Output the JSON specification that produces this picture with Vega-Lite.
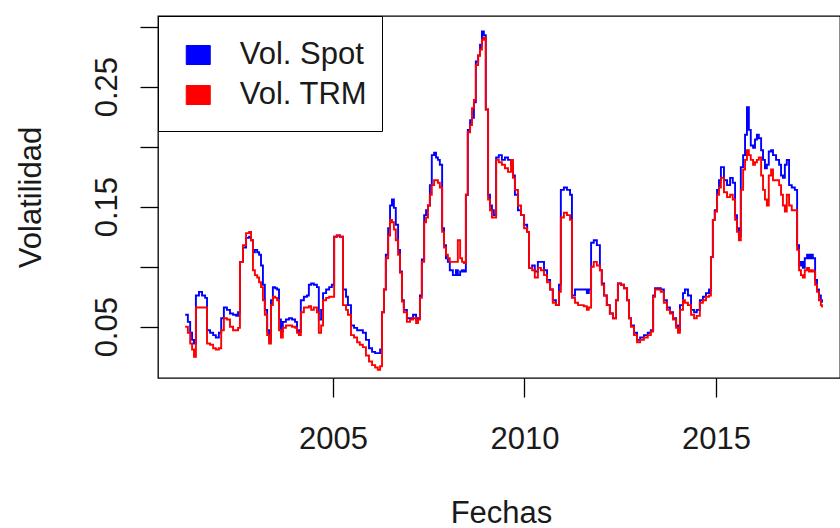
{
"$schema": "https://vega.github.io/schema/vega-lite/v6.json",
"width": 682, "height": 362,
"autosize": {"type": "none"},
"padding": {"left": 158, "top": 16, "right": 0, "bottom": 150},
"background": "white",
"config": {"view": {"stroke": "#000", "strokeWidth": 1.3}, "font": "Liberation Sans"},
"data": {"values": [
{"t":2001.14,"spot":0.060,"trm":0.050},{"t":2001.21,"spot":0.054,"trm":0.045},{"t":2001.27,"spot":0.045,"trm":0.036},{"t":2001.32,"spot":0.039,"trm":0.031},{"t":2001.37,"spot":0.036,"trm":0.025},{"t":2001.42,"spot":0.076,"trm":0.066},{"t":2001.50,"spot":0.079,"trm":0.066},{"t":2001.58,"spot":0.076,"trm":0.066},{"t":2001.66,"spot":0.074,"trm":0.066},{"t":2001.71,"spot":0.047,"trm":0.036},{"t":2001.79,"spot":0.045,"trm":0.035},{"t":2001.87,"spot":0.043,"trm":0.032},{"t":2001.94,"spot":0.041,"trm":0.031},{"t":2002.02,"spot":0.045,"trm":0.032},{"t":2002.08,"spot":0.057,"trm":0.047},{"t":2002.15,"spot":0.066,"trm":0.057},{"t":2002.23,"spot":0.064,"trm":0.056},{"t":2002.31,"spot":0.061,"trm":0.050},{"t":2002.39,"spot":0.060,"trm":0.047},{"t":2002.47,"spot":0.059,"trm":0.047},{"t":2002.52,"spot":0.062,"trm":0.049},{"t":2002.57,"spot":0.104,"trm":0.104},{"t":2002.65,"spot":0.116,"trm":0.118},{"t":2002.73,"spot":0.124,"trm":0.128},{"t":2002.81,"spot":0.125,"trm":0.129},{"t":2002.86,"spot":0.122,"trm":0.122},{"t":2002.91,"spot":0.112,"trm":0.097},{"t":2002.96,"spot":0.114,"trm":0.093},{"t":2003.02,"spot":0.112,"trm":0.091},{"t":2003.07,"spot":0.110,"trm":0.087},{"t":2003.12,"spot":0.101,"trm":0.083},{"t":2003.17,"spot":0.085,"trm":0.072},{"t":2003.22,"spot":0.064,"trm":0.060},{"t":2003.28,"spot":0.047,"trm":0.043},{"t":2003.33,"spot":0.039,"trm":0.036},{"t":2003.38,"spot":0.072,"trm":0.068},{"t":2003.43,"spot":0.083,"trm":0.075},{"t":2003.49,"spot":0.082,"trm":0.074},{"t":2003.54,"spot":0.081,"trm":0.072},{"t":2003.59,"spot":0.056,"trm":0.047},{"t":2003.64,"spot":0.046,"trm":0.041},{"t":2003.69,"spot":0.054,"trm":0.049},{"t":2003.77,"spot":0.056,"trm":0.051},{"t":2003.85,"spot":0.057,"trm":0.051},{"t":2003.93,"spot":0.056,"trm":0.050},{"t":2004.01,"spot":0.054,"trm":0.049},{"t":2004.06,"spot":0.047,"trm":0.045},{"t":2004.11,"spot":0.046,"trm":0.043},{"t":2004.16,"spot":0.072,"trm":0.062},{"t":2004.24,"spot":0.075,"trm":0.066},{"t":2004.32,"spot":0.076,"trm":0.066},{"t":2004.37,"spot":0.085,"trm":0.067},{"t":2004.43,"spot":0.086,"trm":0.064},{"t":2004.50,"spot":0.085,"trm":0.066},{"t":2004.58,"spot":0.083,"trm":0.062},{"t":2004.63,"spot":0.056,"trm":0.045},{"t":2004.69,"spot":0.064,"trm":0.051},{"t":2004.74,"spot":0.078,"trm":0.072},{"t":2004.82,"spot":0.081,"trm":0.074},{"t":2004.90,"spot":0.083,"trm":0.075},{"t":2004.97,"spot":0.085,"trm":0.075},{"t":2005.03,"spot":0.125,"trm":0.125},{"t":2005.10,"spot":0.126,"trm":0.126},{"t":2005.18,"spot":0.125,"trm":0.125},{"t":2005.26,"spot":0.081,"trm":0.068},{"t":2005.34,"spot":0.075,"trm":0.064},{"t":2005.39,"spot":0.068,"trm":0.060},{"t":2005.47,"spot":0.051,"trm":0.043},{"t":2005.55,"spot":0.049,"trm":0.041},{"t":2005.63,"spot":0.047,"trm":0.037},{"t":2005.70,"spot":0.047,"trm":0.035},{"t":2005.78,"spot":0.045,"trm":0.033},{"t":2005.86,"spot":0.039,"trm":0.026},{"t":2005.94,"spot":0.032,"trm":0.021},{"t":2006.02,"spot":0.029,"trm":0.018},{"t":2006.10,"spot":0.028,"trm":0.016},{"t":2006.17,"spot":0.028,"trm":0.014},{"t":2006.23,"spot":0.031,"trm":0.017},{"t":2006.28,"spot":0.062,"trm":0.062},{"t":2006.33,"spot":0.081,"trm":0.081},{"t":2006.38,"spot":0.110,"trm":0.107},{"t":2006.44,"spot":0.132,"trm":0.126},{"t":2006.49,"spot":0.151,"trm":0.139},{"t":2006.54,"spot":0.156,"trm":0.137},{"t":2006.59,"spot":0.149,"trm":0.131},{"t":2006.64,"spot":0.135,"trm":0.122},{"t":2006.70,"spot":0.114,"trm":0.110},{"t":2006.75,"spot":0.096,"trm":0.095},{"t":2006.80,"spot":0.072,"trm":0.071},{"t":2006.85,"spot":0.064,"trm":0.062},{"t":2006.93,"spot":0.057,"trm":0.054},{"t":2007.01,"spot":0.057,"trm":0.056},{"t":2007.09,"spot":0.060,"trm":0.057},{"t":2007.17,"spot":0.056,"trm":0.053},{"t":2007.22,"spot":0.057,"trm":0.056},{"t":2007.27,"spot":0.076,"trm":0.074},{"t":2007.32,"spot":0.106,"trm":0.104},{"t":2007.38,"spot":0.143,"trm":0.137},{"t":2007.43,"spot":0.147,"trm":0.141},{"t":2007.48,"spot":0.151,"trm":0.151},{"t":2007.53,"spot":0.168,"trm":0.160},{"t":2007.58,"spot":0.193,"trm":0.168},{"t":2007.64,"spot":0.195,"trm":0.172},{"t":2007.69,"spot":0.191,"trm":0.172},{"t":2007.74,"spot":0.189,"trm":0.170},{"t":2007.79,"spot":0.185,"trm":0.166},{"t":2007.85,"spot":0.132,"trm":0.129},{"t":2007.90,"spot":0.118,"trm":0.116},{"t":2007.95,"spot":0.107,"trm":0.110},{"t":2008.00,"spot":0.104,"trm":0.107},{"t":2008.05,"spot":0.097,"trm":0.104},{"t":2008.13,"spot":0.093,"trm":0.104},{"t":2008.21,"spot":0.097,"trm":0.104},{"t":2008.26,"spot":0.093,"trm":0.122},{"t":2008.32,"spot":0.096,"trm":0.107},{"t":2008.37,"spot":0.097,"trm":0.104},{"t":2008.42,"spot":0.096,"trm":0.103},{"t":2008.47,"spot":0.160,"trm":0.160},{"t":2008.52,"spot":0.214,"trm":0.212},{"t":2008.58,"spot":0.222,"trm":0.218},{"t":2008.63,"spot":0.224,"trm":0.232},{"t":2008.68,"spot":0.237,"trm":0.239},{"t":2008.73,"spot":0.271,"trm":0.268},{"t":2008.79,"spot":0.276,"trm":0.276},{"t":2008.84,"spot":0.285,"trm":0.281},{"t":2008.89,"spot":0.296,"trm":0.289},{"t":2008.94,"spot":0.293,"trm":0.291},{"t":2008.99,"spot":0.231,"trm":0.231},{"t":2009.05,"spot":0.160,"trm":0.156},{"t":2009.10,"spot":0.151,"trm":0.147},{"t":2009.15,"spot":0.147,"trm":0.141},{"t":2009.20,"spot":0.143,"trm":0.141},{"t":2009.26,"spot":0.191,"trm":0.189},{"t":2009.33,"spot":0.193,"trm":0.187},{"t":2009.41,"spot":0.189,"trm":0.185},{"t":2009.49,"spot":0.191,"trm":0.182},{"t":2009.57,"spot":0.189,"trm":0.179},{"t":2009.65,"spot":0.185,"trm":0.189},{"t":2009.70,"spot":0.176,"trm":0.174},{"t":2009.75,"spot":0.160,"trm":0.164},{"t":2009.83,"spot":0.147,"trm":0.151},{"t":2009.91,"spot":0.143,"trm":0.143},{"t":2009.99,"spot":0.135,"trm":0.132},{"t":2010.07,"spot":0.129,"trm":0.129},{"t":2010.12,"spot":0.099,"trm":0.099},{"t":2010.20,"spot":0.101,"trm":0.097},{"t":2010.27,"spot":0.096,"trm":0.091},{"t":2010.35,"spot":0.104,"trm":0.099},{"t":2010.43,"spot":0.104,"trm":0.097},{"t":2010.51,"spot":0.097,"trm":0.093},{"t":2010.59,"spot":0.089,"trm":0.087},{"t":2010.67,"spot":0.081,"trm":0.081},{"t":2010.74,"spot":0.072,"trm":0.070},{"t":2010.82,"spot":0.068,"trm":0.068},{"t":2010.90,"spot":0.085,"trm":0.079},{"t":2010.95,"spot":0.164,"trm":0.141},{"t":2011.03,"spot":0.166,"trm":0.145},{"t":2011.11,"spot":0.164,"trm":0.143},{"t":2011.19,"spot":0.160,"trm":0.139},{"t":2011.24,"spot":0.076,"trm":0.074},{"t":2011.32,"spot":0.081,"trm":0.070},{"t":2011.40,"spot":0.081,"trm":0.068},{"t":2011.48,"spot":0.081,"trm":0.068},{"t":2011.55,"spot":0.081,"trm":0.067},{"t":2011.63,"spot":0.078,"trm":0.064},{"t":2011.68,"spot":0.081,"trm":0.066},{"t":2011.74,"spot":0.120,"trm":0.100},{"t":2011.81,"spot":0.122,"trm":0.104},{"t":2011.89,"spot":0.118,"trm":0.101},{"t":2011.97,"spot":0.097,"trm":0.097},{"t":2012.02,"spot":0.086,"trm":0.085},{"t":2012.08,"spot":0.076,"trm":0.076},{"t":2012.15,"spot":0.068,"trm":0.068},{"t":2012.23,"spot":0.061,"trm":0.061},{"t":2012.31,"spot":0.057,"trm":0.057},{"t":2012.39,"spot":0.072,"trm":0.072},{"t":2012.44,"spot":0.086,"trm":0.086},{"t":2012.52,"spot":0.085,"trm":0.085},{"t":2012.60,"spot":0.082,"trm":0.082},{"t":2012.68,"spot":0.072,"trm":0.072},{"t":2012.73,"spot":0.057,"trm":0.057},{"t":2012.78,"spot":0.051,"trm":0.050},{"t":2012.86,"spot":0.045,"trm":0.043},{"t":2012.94,"spot":0.039,"trm":0.037},{"t":2013.02,"spot":0.041,"trm":0.039},{"t":2013.12,"spot":0.043,"trm":0.041},{"t":2013.22,"spot":0.045,"trm":0.043},{"t":2013.30,"spot":0.047,"trm":0.046},{"t":2013.36,"spot":0.076,"trm":0.075},{"t":2013.41,"spot":0.082,"trm":0.081},{"t":2013.49,"spot":0.082,"trm":0.081},{"t":2013.56,"spot":0.081,"trm":0.079},{"t":2013.64,"spot":0.072,"trm":0.070},{"t":2013.72,"spot":0.066,"trm":0.064},{"t":2013.80,"spot":0.062,"trm":0.061},{"t":2013.88,"spot":0.057,"trm":0.056},{"t":2013.96,"spot":0.051,"trm":0.049},{"t":2014.01,"spot":0.047,"trm":0.045},{"t":2014.06,"spot":0.068,"trm":0.064},{"t":2014.14,"spot":0.078,"trm":0.072},{"t":2014.19,"spot":0.081,"trm":0.070},{"t":2014.27,"spot":0.076,"trm":0.068},{"t":2014.35,"spot":0.064,"trm":0.060},{"t":2014.43,"spot":0.062,"trm":0.057},{"t":2014.50,"spot":0.064,"trm":0.059},{"t":2014.58,"spot":0.072,"trm":0.070},{"t":2014.66,"spot":0.075,"trm":0.072},{"t":2014.74,"spot":0.078,"trm":0.075},{"t":2014.82,"spot":0.081,"trm":0.076},{"t":2014.87,"spot":0.108,"trm":0.108},{"t":2014.92,"spot":0.139,"trm":0.139},{"t":2014.97,"spot":0.147,"trm":0.146},{"t":2015.03,"spot":0.164,"trm":0.160},{"t":2015.08,"spot":0.172,"trm":0.166},{"t":2015.13,"spot":0.183,"trm":0.174},{"t":2015.21,"spot":0.172,"trm":0.162},{"t":2015.29,"spot":0.168,"trm":0.158},{"t":2015.37,"spot":0.174,"trm":0.160},{"t":2015.44,"spot":0.170,"trm":0.156},{"t":2015.50,"spot":0.143,"trm":0.139},{"t":2015.55,"spot":0.132,"trm":0.129},{"t":2015.60,"spot":0.126,"trm":0.122},{"t":2015.65,"spot":0.183,"trm":0.164},{"t":2015.71,"spot":0.193,"trm":0.181},{"t":2015.76,"spot":0.210,"trm":0.189},{"t":2015.81,"spot":0.233,"trm":0.197},{"t":2015.86,"spot":0.214,"trm":0.193},{"t":2015.91,"spot":0.201,"trm":0.189},{"t":2015.97,"spot":0.199,"trm":0.185},{"t":2016.02,"spot":0.206,"trm":0.187},{"t":2016.07,"spot":0.210,"trm":0.189},{"t":2016.12,"spot":0.207,"trm":0.191},{"t":2016.18,"spot":0.197,"trm":0.176},{"t":2016.23,"spot":0.189,"trm":0.164},{"t":2016.28,"spot":0.182,"trm":0.156},{"t":2016.33,"spot":0.185,"trm":0.151},{"t":2016.38,"spot":0.196,"trm":0.176},{"t":2016.44,"spot":0.197,"trm":0.181},{"t":2016.49,"spot":0.193,"trm":0.172},{"t":2016.57,"spot":0.189,"trm":0.172},{"t":2016.65,"spot":0.185,"trm":0.168},{"t":2016.70,"spot":0.176,"trm":0.160},{"t":2016.75,"spot":0.174,"trm":0.151},{"t":2016.80,"spot":0.185,"trm":0.146},{"t":2016.85,"spot":0.189,"trm":0.160},{"t":2016.91,"spot":0.168,"trm":0.151},{"t":2016.98,"spot":0.166,"trm":0.147},{"t":2017.06,"spot":0.164,"trm":0.147},{"t":2017.12,"spot":0.118,"trm":0.114},{"t":2017.17,"spot":0.101,"trm":0.097},{"t":2017.22,"spot":0.104,"trm":0.093},{"t":2017.27,"spot":0.099,"trm":0.091},{"t":2017.32,"spot":0.107,"trm":0.097},{"t":2017.38,"spot":0.110,"trm":0.099},{"t":2017.43,"spot":0.107,"trm":0.096},{"t":2017.48,"spot":0.110,"trm":0.097},{"t":2017.53,"spot":0.107,"trm":0.096},{"t":2017.59,"spot":0.089,"trm":0.085},{"t":2017.64,"spot":0.081,"trm":0.079},{"t":2017.69,"spot":0.076,"trm":0.072},{"t":2017.74,"spot":0.072,"trm":0.068},{"t":2017.77,"spot":0.070,"trm":0.066}
]},
"transform": [{"fold": ["spot", "trm"], "as": ["s", "v"]}],
"mark": {"type": "line", "interpolate": "step-after", "strokeWidth": 1.9},
"encoding": {
  "x": {"field": "t", "type": "quantitative",
    "scale": {"domain": [2000.43, 2018.24], "nice": false, "zero": false},
    "axis": {"title": "Fechas", "values": [2005, 2010, 2015], "format": "d", "domain": false, "grid": false,
      "tickSize": 19, "tickColor": "#000", "tickWidth": 1.3,
      "labelFont": "Liberation Sans", "labelFontSize": 31, "labelColor": "#1a1a1a", "labelBaseline": "alphabetic", "labelPadding": 51,
      "labelFlush": false, "labelOverlap": false,
      "titleFont": "Liberation Sans", "titleFontSize": 31, "titleFontWeight": "normal", "titleColor": "#1a1a1a",
      "titleBaseline": "alphabetic", "titleAlign": "center", "titleX": 343, "titleY": 144}},
  "y": {"field": "v", "type": "quantitative",
    "scale": {"domain": [0.00725, 0.3089], "nice": false, "zero": false},
    "axis": {"title": "Volatilidad", "values": [0.05, 0.1, 0.15, 0.2, 0.25, 0.3], "format": ".2f",
      "labelExpr": "((datum.value > 0.04 && datum.value < 0.06) || (datum.value > 0.14 && datum.value < 0.16) || (datum.value > 0.24 && datum.value < 0.26)) ? datum.label : ''",
      "domain": false, "grid": false, "tickSize": 18, "tickColor": "#000", "tickWidth": 1.3,
      "labelFont": "Liberation Sans", "labelFontSize": 31, "labelColor": "#1a1a1a", "labelAngle": 270, "labelAlign": "center", "labelBaseline": "alphabetic", "labelPadding": 24,
      "labelFlush": false, "labelOverlap": false, "labelBound": false,
      "titleFont": "Liberation Sans", "titleFontSize": 31, "titleFontWeight": "normal", "titleColor": "#1a1a1a",
      "titleAngle": 270, "titleBaseline": "alphabetic", "titleAlign": "center", "titleX": -118, "titleY": 181}},
  "color": {"field": "s", "type": "nominal",
    "scale": {"domain": ["spot", "trm"], "range": ["#0000ff", "#ff0000"]},
    "legend": {"title": " ", "titleOrient": "bottom", "titleFontSize": 4, "titlePadding": 3, "orient": "none", "legendX": 0, "legendY": 0,
      "labelExpr": "datum.value == 'spot' ? 'Vol. Spot' : 'Vol. TRM'",
      "labelFont": "Liberation Sans", "labelFontSize": 31, "labelColor": "#1a1a1a",
      "symbolType": "M-0.49,-0.388H0.49V0.388H-0.49Z", "symbolSize": 2401, "symbolStrokeWidth": 1, "symbolStrokeColor": "#000", "symbolOffset": 1.25,
      "strokeColor": "#000", "fillColor": "#fff", "padding": 14, "rowPadding": -1, "labelOffset": 16.5,
      "encode": {"symbols": {"update": {"fill": {"scale": "color", "field": "value"}, "stroke": {"value": "#000"}, "strokeWidth": {"value": 1}, "opacity": {"value": 1}}}}}}
}
}
